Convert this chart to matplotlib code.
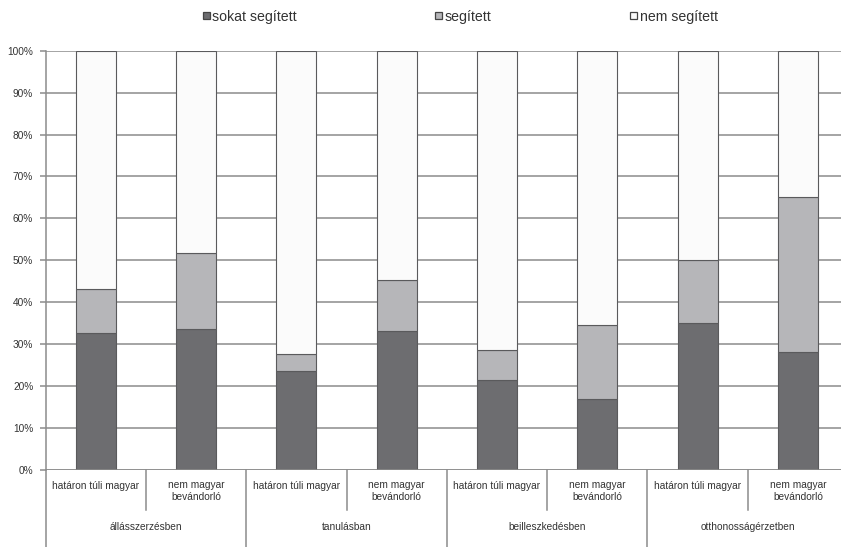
import matplotlib.pyplot as plt
from matplotlib.patches import Rectangle
import numpy as np

groups = ["állásszerzésben", "tanulásban", "beilleszkedésben", "otthonosságérzetben"]
subgroups = ["határon túli magyar", "nem magyar\nbevándorló"]
series = ["sokat segített", "segített", "nem segített"]

# percentages per bar (left to right)
sokat = [32.6, 33.6, 23.7, 33.2, 21.5, 16.9, 35.1, 28.2]
segitett_top = [43.1, 51.7, 27.6, 45.3, 28.5, 34.5, 50.1, 65.1]
segitett = [t - s for t, s in zip(segitett_top, sokat)]
nem = [100 - t for t in segitett_top]

colors = ["#6d6d70", "#b6b6b9", "#fbfbfb"]
edge = "#5a5a5c"
grid = "#8c8c8c"

plt.rcParams['font.family'] = ['Liberation Sans', 'DejaVu Sans']

W, H = 841, 547
fig = plt.figure(figsize=(W / 100, H / 100), dpi=100)
x0, x1, y0, y1 = 45.7, 848.0, 470.0, 50.7
ax = fig.add_axes([x0 / W, 1 - y0 / H, (x1 - x0) / W, (y0 - y1) / H])

x = np.arange(len(sokat))
w = 0.4
bottom = np.zeros(len(x))
for vals, c in zip([sokat, segitett, nem], colors):
    ax.bar(x, vals, w, bottom=bottom, color=c, edgecolor=edge, linewidth=0.8, zorder=3)
    bottom += np.array(vals)

ax.set_xlim(-0.5, len(x) - 0.5)
ax.set_ylim(0, 100)
ax.set_yticks(np.arange(0, 101, 10))
ax.set_yticklabels([f"{v}%" for v in range(0, 101, 10)], fontsize=7.3, color="#333333")
ax.yaxis.grid(True, color=grid, linewidth=1.1, zorder=0)
ax.tick_params(axis='y', length=4, width=1.1, color=grid, pad=5)
ax.set_xticks([])
for s in ["top", "right", "bottom"]:
    ax.spines[s].set_visible(False)
ax.spines["left"].set_color(grid)
ax.spines["left"].set_linewidth(1.1)
ax.axhline(0, color=grid, linewidth=1.1, zorder=4)

# multi-level category axis below the plot
tr = ax.get_xaxis_transform()
px = 1 / (y0 - y1)
for i in range(len(x) + 1):
    xb = i - 0.5
    depth = -(547 - y0) * px if i % 2 == 0 else -(510 - y0) * px
    ax.plot([xb, xb], [0, depth], color=grid, linewidth=1.1, transform=tr, clip_on=False)
for i in range(len(x)):
    lab = subgroups[i % 2]
    yl = -(486 - y0) * px if i % 2 == 0 else -(491 - y0) * px
    ax.text(i, yl, lab, transform=tr, ha='center', va='center', fontsize=7.3,
            color="#333333", linespacing=1.25)
for g, name in enumerate(groups):
    ax.text(2 * g + 0.5, -(527 - y0) * px, name, transform=tr, ha='center', va='center',
            fontsize=7.3, color="#333333")

# legend row at the top
leg_x = [203, 435, 630]
for lx, c, name in zip(leg_x, colors, series):
    fig.add_artist(Rectangle((lx / W, 1 - 18.5 / H), 7 / W, 7 / H, transform=fig.transFigure,
                             facecolor=c, edgecolor="#444444", linewidth=0.9))
    fig.text((lx + 9.5) / W, 1 - 17 / H, name, ha='left', va='center', fontsize=10.2,
             color="#333333")

fig.savefig("out.png", dpi=100, facecolor="white")
